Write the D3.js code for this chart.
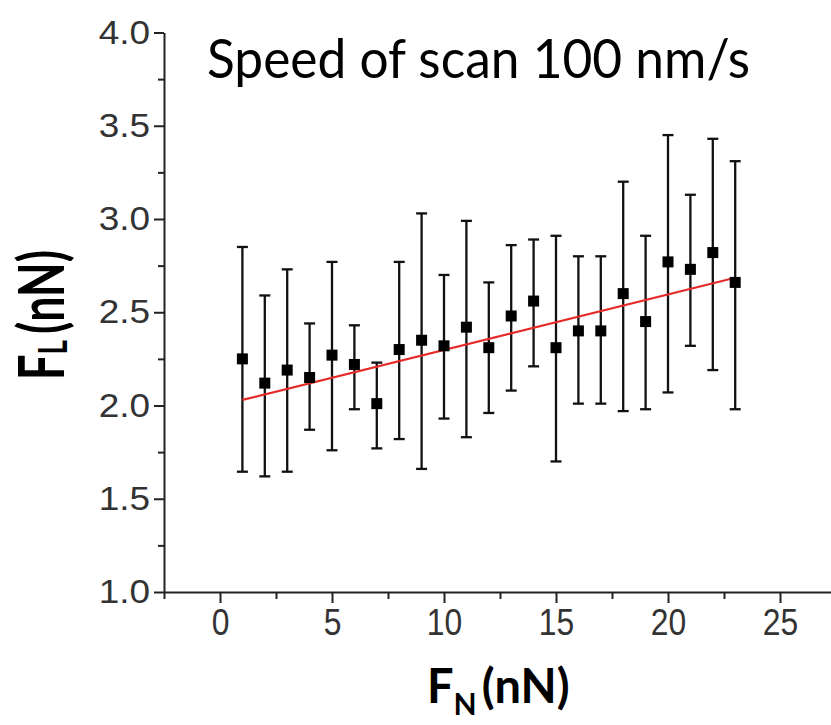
<!DOCTYPE html>
<html>
<head>
<meta charset="utf-8">
<script src="https://cdn.jsdelivr.net/npm/d3@7"></script>
<style>
  body { margin: 0; background: #fff; }
  svg { display: block; }
</style>
</head>
<body>
<svg id="chart" width="831" height="725"></svg>
<script>
// normal force F_N (nN)
var fn = [1, 2, 3, 4, 5, 6, 7, 8, 9, 10, 11, 12, 13, 14, 15, 16, 17, 18, 19, 20, 21, 22, 23];
// lateral force F_L (nN)
var fl = [2.25, 2.12, 2.19, 2.15, 2.27, 2.22, 2.01, 2.30, 2.35, 2.32, 2.42, 2.31, 2.48, 2.56, 2.31, 2.40, 2.40, 2.60, 2.45, 2.77, 2.73, 2.82, 2.66];
var flUpper = [2.85, 2.59, 2.73, 2.44, 2.77, 2.43, 2.23, 2.77, 3.03, 2.70, 2.99, 2.66, 2.86, 2.89, 2.91, 2.80, 2.80, 3.20, 2.91, 3.45, 3.13, 3.43, 3.31];
var flLower = [1.645, 1.62, 1.645, 1.87, 1.76, 1.98, 1.77, 1.82, 1.66, 1.93, 1.83, 1.96, 2.08, 2.21, 1.70, 2.01, 2.01, 1.97, 1.98, 2.07, 2.32, 2.19, 1.98];
// linear fit, end points
var fitX = [1, 23];
var fitY = [2.03, 2.685];

var xTicks = [0, 5, 10, 15, 20, 25];
var yTicks = [1.0, 1.5, 2.0, 2.5, 3.0, 3.5, 4.0];
var chartTitle = "Speed of scan 100 nm/s";

var svg = d3.select("#chart");

var x = d3.scaleLinear().domain([-2.5, 27.5]).range([164, 836]);
var y = d3.scaleLinear().domain([1, 4]).range([592, 32.5]);

var axisColor = "#222";

// minor ticks first
svg.append("g")
    .attr("transform", "translate(0,592)")
    .call(d3.axisBottom(x).tickValues(d3.range(-2.5, 28, 5)).tickSize(7).tickFormat(""))
    .call(g => g.select(".domain").remove());
svg.append("g")
    .attr("transform", "translate(164,0)")
    .call(d3.axisLeft(y).tickValues(d3.range(1.25, 4, 0.5)).tickSize(6).tickFormat(""))
    .call(g => g.select(".domain").remove());

var xAxis = svg.append("g")
    .attr("transform", "translate(0,592)")
    .call(d3.axisBottom(x).tickValues(xTicks).tickSize(11).tickSizeOuter(0).tickPadding(6).tickFormat(d3.format("d")));

var yAxis = svg.append("g")
    .attr("transform", "translate(164,0)")
    .call(d3.axisLeft(y).tickValues(yTicks).tickSize(10).tickSizeOuter(0).tickPadding(4).tickFormat(d3.format(".1f")));

svg.selectAll(".tick line").attr("stroke", axisColor).attr("stroke-width", 2);
svg.selectAll(".domain").attr("stroke", axisColor).attr("stroke-width", 2);

xAxis.selectAll(".tick text")
    .attr("font-family", "Liberation Sans, Arial, sans-serif")
    .attr("font-size", 37)
    .attr("fill", "#333")
    .attr("dy", "0.7em")
    .each(function () {
        var w = this.getComputedTextLength();
        d3.select(this).attr("textLength", w * 0.86).attr("lengthAdjust", "spacingAndGlyphs");
    });

yAxis.selectAll(".tick text")
    .attr("font-family", "Liberation Sans, Arial, sans-serif")
    .attr("font-size", 33)
    .attr("fill", "#333")
    .each(function () {
        var w = this.getComputedTextLength();
        d3.select(this).attr("textLength", w * 1.12).attr("lengthAdjust", "spacingAndGlyphs");
    });

// error bars
var pts = fn.map((d, i) => ({ x: d, y: fl[i], hi: flUpper[i], lo: flLower[i] }));
var capW = 5.5;

var bars = svg.append("g").attr("stroke", "#111").attr("stroke-width", 2.3);
bars.selectAll("line.v").data(pts).join("line")
    .attr("x1", d => x(d.x)).attr("x2", d => x(d.x))
    .attr("y1", d => y(d.hi)).attr("y2", d => y(d.lo));
bars.selectAll("line.top").data(pts).join("line")
    .attr("x1", d => x(d.x) - capW).attr("x2", d => x(d.x) + capW)
    .attr("y1", d => y(d.hi)).attr("y2", d => y(d.hi));
bars.selectAll("line.bot").data(pts).join("line")
    .attr("x1", d => x(d.x) - capW).attr("x2", d => x(d.x) + capW)
    .attr("y1", d => y(d.lo)).attr("y2", d => y(d.lo));

// fit line
svg.append("path")
    .datum(fitX.map((d, i) => [d, fitY[i]]))
    .attr("fill", "none")
    .attr("stroke", "#e62a2a")
    .attr("stroke-width", 2.2)
    .attr("d", d3.line().x(d => x(d[0])).y(d => y(d[1])));

// square markers
var s = 11;
svg.append("g").selectAll("rect").data(pts).join("rect")
    .attr("x", d => x(d.x) - s / 2)
    .attr("y", d => y(d.y) - s / 2)
    .attr("width", s).attr("height", s)
    .attr("fill", "#000");

// titles
svg.append("text")
    .attr("x", 207).attr("y", 78)
    .attr("font-family", "Lato, Open Sans, sans-serif")
    .attr("font-size", 54)
    .attr("textLength", 543).attr("lengthAdjust", "spacingAndGlyphs")
    .attr("fill", "#000")
    .text(chartTitle);

var xt = svg.append("text")
    .attr("x", 427).attr("y", 703)
    .attr("font-family", "Lato, Open Sans, sans-serif")
    .attr("font-weight", "bold")
    .attr("font-size", 47)
    .attr("fill", "#000");
xt.append("tspan").text("F");
xt.append("tspan").attr("font-size", 30).attr("dy", 12).text("N");
xt.append("tspan").attr("dy", -12).attr("dx", 5).text("(nN)");

var yt = svg.append("text")
    .attr("transform", "translate(64,380) rotate(-90) scale(1,1.4)")
    .attr("font-family", "Lato, Open Sans, sans-serif")
    .attr("font-weight", "bold")
    .attr("font-size", 45)
    .attr("fill", "#000");
yt.append("tspan").text("F");
yt.append("tspan").attr("font-size", 28).attr("dy", 2).text("L");
yt.append("tspan").attr("dy", -2).attr("dx", 6).text("(nN)");
</script>
</body>
</html>
